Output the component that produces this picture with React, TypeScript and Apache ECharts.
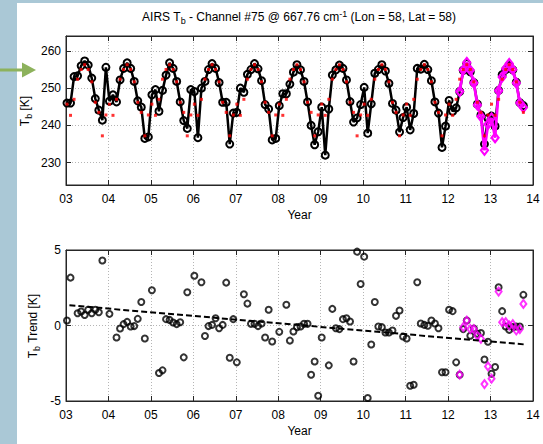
import React, { useEffect, useRef } from 'react';
import * as echarts from 'echarts';

const FONT = '"Liberation Sans", Arial, Helvetica, sans-serif';

// Year axis ticks (two-digit labels 03..14)
const yearTicks = ['03', '04', '05', '06', '07', '08', '09', '10', '11', '12', '13', '14'];
const dataYears = [2003, 2004, 2005, 2006, 2007, 2008, 2009, 2010, 2011, 2012, 2013];

// Top panel: monthly AIRS Tb [K] (black circles + line), Jan..Dec per year
const tb2003 = [246.0, 246.0, 253.1, 253.3, 256.0, 257.3, 256.2, 252.7, 247.2, 244.1, 241.4, 255.6];
const tb2004 = [246.5, 248.2, 246.3, 252.2, 255.3, 256.8, 255.3, 251.8, 246.6, 244.9, 236.5, 236.9];
const tb2005 = [248.2, 249.6, 243.8, 249.4, 253.5, 256.8, 255.3, 251.8, 246.3, 241.3, 239.2, 249.6];
const tb2006 = [249.1, 236.7, 250.0, 251.8, 255.0, 256.6, 255.3, 251.5, 246.2, 246.2, 235.0, 243.3];
const tb2007 = [243.5, 250.0, 248.9, 253.7, 255.0, 256.6, 255.2, 252.0, 245.6, 244.4, 236.1, 236.5];
const tb2008 = [245.3, 248.5, 248.5, 251.1, 254.3, 256.3, 254.9, 251.8, 246.3, 240.0, 234.8, 238.3];
const tb2009 = [244.9, 232.0, 244.4, 253.5, 254.9, 256.2, 255.3, 252.2, 246.4, 240.9, 242.0, 245.6];
const tb2010 = [250.2, 237.9, 245.8, 254.0, 255.0, 256.3, 254.6, 251.3, 245.9, 244.1, 238.2, 242.1];
const tb2011 = [244.9, 238.8, 243.2, 255.3, 255.1, 256.4, 255.0, 252.0, 246.3, 243.3, 234.1, 239.8];
const tb2012 = [246.7, 243.8, 244.7, 249.1, 254.8, 256.6, 254.4, 251.5, 245.7, 242.8, 235.0, 241.9];
const tb2013 = [242.5, 239.8, 249.4, 253.6, 255.0, 256.1, 254.9, 251.6, 246.1, 245.3];

// Top panel: newer product (magenta diamonds), Apr 2012 .. Oct 2013
const tbNew2012 = [null, null, null, 249.1, 254.9, 256.9, 254.8, 251.4, 245.5, 242.4, 233.3, 240.3];
const tbNew2013 = [242.0, 236.7, 249.3, 253.0, 255.3, 256.6, 255.0, 251.4, 246.0, 244.8];

// Top panel: red dots = monthly climatology (identical every year), Jan..Dec
const climatology = [245.7, 242.7, 247.0, 252.4, 255.0, 256.3, 255.0, 251.7, 246.2, 243.5, 237.2, 242.8];

// Bottom panel: Tb trend anomalies [K] (black circles); null = outside the -5..5 range
const an2003 = [0.33, 3.17, null, 0.81, 0.93, 0.70, 1.04, 0.81, 1.04, 0.88, 4.30, null];
const an2004 = [0.77, null, -0.79, -0.20, 0.09, 0.24, -0.07, -0.04, 0.44, 1.56, -0.86, null];
const an2005 = [2.33, null, -3.15, -2.97, 0.42, 0.37, 0.20, 0.09, 0.22, -2.11, 2.20, null];
const an2006 = [3.30, null, 2.86, -0.70, -0.04, 0.04, 0.48, -0.18, 0.04, 2.84, -2.14, 0.42];
const an2007 = [-2.44, null, 2.07, 1.45, 0.11, 0.11, -0.04, 0.13, -0.79, 1.04, -1.06, null];
const an2008 = [-0.42, null, 1.37, -1.00, -0.40, -0.11, -0.07, 0.11, 0.11, -3.26, -2.38, -4.65];
const an2009 = [-0.79, null, -2.64, 1.10, -0.18, -0.24, 0.42, 0.48, 0.26, -2.38, 4.89, 2.75];
const an2010 = [4.56, -4.80, -1.26, 1.56, -0.07, -0.11, -0.46, -0.46, -0.33, 0.64, 0.99, -0.73];
const an2011 = [-0.86, -3.99, -3.92, 2.86, 0.13, 0.04, -0.02, 0.33, 0.13, -0.18, -3.10, -3.10];
const an2012 = [1.04, 0.95, -2.44, -3.26, -0.24, 0.33, -0.68, -0.20, -0.55, -0.50, -2.25, -1.08];
const an2013 = [-3.2, -2.75, 2.53, 0.95, -0.07, -0.29, -0.11, -0.07, -0.07, 2.03];

// Bottom panel: newer product anomalies (magenta diamonds)
const anNew2012 = [null, null, null, -3.26, -0.11, 0.33, -0.24, -0.24, -0.68, -0.88, -3.88, -2.71];
const anNew2013 = [-3.52, null, 2.25, 0.22, 0.22, 0.0, 0.09, -0.33, -0.24, 1.43];

// Bottom panel: linear trend (dashed), end points [year, K]
const trendYears = [3.08, 13.78];
const trendValues = [1.34, -1.25];

const tbByYear = [tb2003, tb2004, tb2005, tb2006, tb2007, tb2008, tb2009, tb2010, tb2011, tb2012, tb2013];
const anByYear = [an2003, an2004, an2005, an2006, an2007, an2008, an2009, an2010, an2011, an2012, an2013];

const decYear = (year: number, m: number) => year - 2000 + (m + 0.28) / 12;

function monthly(list: (number | null)[][], years: number[]) {
  const out: [number, number | null][] = [];
  list.forEach((arr, k) => arr.forEach((v, m) => out.push([decYear(years[k], m), v])));
  return out;
}

const blackTop = monthly(tbByYear, dataYears);
const magentaTop = monthly([tbNew2012, tbNew2013], [2012, 2013]).filter((p) => p[1] !== null);
const redTop = blackTop.map((p, i) => [p[0], climatology[i % 12]]);
const blackBottom = monthly(anByYear, dataYears).filter((p) => p[1] !== null);
const magentaBottom = monthly([anNew2012, anNew2013], [2012, 2013]).filter((p) => p[1] !== null);
const trendLine = trendYears.map((x, i) => [x, trendValues[i]]);

const AX = '#262626';
const GRID_LINE = { show: true, lineStyle: { color: '#b5b5b5', type: [1, 2] as any, width: 1 } };

function xAxes(gridIndex: number, nameGap: number) {
  const base = {
    gridIndex,
    type: 'value' as const,
    min: 3,
    max: 14,
    interval: 1,
    axisLine: { show: true, onZero: false, lineStyle: { color: AX, width: 1 } },
    axisTick: { show: true, inside: true, length: 5, lineStyle: { color: AX } },
  };
  return [
    {
      ...base,
      position: 'bottom',
      axisLabel: {
        show: true,
        margin: 8,
        color: '#000',
        fontSize: 12,
        fontFamily: FONT,
        formatter: (v: number) => yearTicks[Math.round(v) - 3] ?? '',
      },
      splitLine: GRID_LINE,
      name: 'Year',
      nameLocation: 'middle',
      nameGap,
      nameTextStyle: { color: '#000', fontSize: 12, fontFamily: FONT },
    },
    { ...base, position: 'top', axisLabel: { show: false }, splitLine: { show: false } },
  ];
}

function yAxes(gridIndex: number, range: any, fmt: (v: number) => string) {
  const base = {
    gridIndex,
    type: 'value' as const,
    ...range,
    axisLine: { show: true, onZero: false, lineStyle: { color: AX, width: 1 } },
    axisTick: { show: true, inside: true, length: 5, lineStyle: { color: AX } },
  };
  return [
    {
      ...base,
      position: 'left',
      axisLabel: { show: true, margin: 5, color: '#000', fontSize: 12, fontFamily: FONT, formatter: fmt },
      splitLine: GRID_LINE,
    },
    { ...base, position: 'right', axisLabel: { show: false }, splitLine: { show: false } },
  ];
}

const rich = {
  n: { fontSize: 12, fontFamily: FONT, fill: '#000', lineHeight: 16 },
  s: { fontSize: 9, fontFamily: FONT, fill: '#000', lineHeight: 9, verticalAlign: 'bottom' },
  p: { fontSize: 9, fontFamily: FONT, fill: '#000', lineHeight: 9, verticalAlign: 'top' },
};

const option: any = {
  animation: false,
  backgroundColor: '#ffffff',
  grid: [
    { left: 66, top: 36, width: 467, height: 149, show: true, backgroundColor: '#fff', borderColor: AX, borderWidth: 1 },
    { left: 66, top: 250, width: 467, height: 151, show: true, backgroundColor: '#fff', borderColor: AX, borderWidth: 1 },
  ],
  xAxis: [...xAxes(0, 24), ...xAxes(1, 24)],
  yAxis: [
    ...yAxes(0, { min: 224, max: 264, splitNumber: 4 }, (v) => (v % 10 === 0 ? String(v) : '')),
    ...yAxes(1, { min: -5, max: 5, interval: 5 }, (v) => String(v)),
  ],
  graphic: [
    { type: 'rect', shape: { x: 0, y: 0, width: 17, height: 444 }, style: { fill: '#aac8d6' }, z: -10 },
    { type: 'rect', shape: { x: 0, y: 0, width: 543, height: 3 }, style: { fill: '#aac8d6' }, z: -10 },
    { type: 'line', shape: { x1: 0, y1: 70, x2: 25, y2: 70 }, style: { stroke: '#8db25c', lineWidth: 3 }, z: 10 },
    { type: 'polygon', shape: { points: [[22, 62.5], [36, 70], [22, 77.5]] }, style: { fill: '#8db25c' }, z: 10 },
    {
      type: 'text',
      x: 299,
      y: 17,
      style: {
        text: '{n|AIRS T}{s|b}{n| - Channel #75 @ 667.76 cm}{p|-1}{n| (Lon = 58, Lat = 58)}',
        rich,
        align: 'center',
        verticalAlign: 'middle',
      },
    },
    {
      type: 'text',
      x: 25,
      y: 111,
      rotation: Math.PI / 2,
      style: { text: '{n|T}{s|b}{n| [K]}', rich, align: 'center', verticalAlign: 'middle' },
    },
    {
      type: 'text',
      x: 33,
      y: 326,
      rotation: Math.PI / 2,
      style: { text: '{n|T}{s|b}{n| Trend [K]}', rich, align: 'center', verticalAlign: 'middle' },
    },
  ],
  series: [
    {
      type: 'line',
      xAxisIndex: 0,
      yAxisIndex: 0,
      data: blackTop,
      symbol: 'circle',
      symbolSize: 7,
      itemStyle: { color: 'rgba(0,0,0,0)', borderColor: '#000', borderWidth: 2 },
      lineStyle: { color: '#000', width: 2.5 },
      z: 3,
      silent: true,
    },
    {
      type: 'line',
      xAxisIndex: 0,
      yAxisIndex: 0,
      data: magentaTop,
      symbol: 'diamond',
      symbolSize: [7, 9],
      itemStyle: { color: 'rgba(255,0,255,0)', borderColor: '#ff00ff', borderWidth: 2.2 },
      lineStyle: { color: '#ff00ff', width: 2.8 },
      z: 4,
      silent: true,
    },
    {
      type: 'scatter',
      xAxisIndex: 0,
      yAxisIndex: 0,
      data: redTop,
      symbol: 'rect',
      symbolSize: 3,
      itemStyle: { color: '#ff0000' },
      z: 5,
      silent: true,
    },
    {
      type: 'scatter',
      xAxisIndex: 2,
      yAxisIndex: 2,
      data: blackBottom,
      symbol: 'circle',
      symbolSize: 6,
      itemStyle: { color: 'rgba(0,0,0,0)', borderColor: '#000', borderWidth: 2 },
      z: 3,
      silent: true,
    },
    {
      type: 'scatter',
      xAxisIndex: 2,
      yAxisIndex: 2,
      data: magentaBottom,
      symbol: 'diamond',
      symbolSize: [6, 8],
      itemStyle: { color: 'rgba(255,0,255,0)', borderColor: '#ff00ff', borderWidth: 2 },
      z: 4,
      silent: true,
    },
    {
      type: 'line',
      xAxisIndex: 2,
      yAxisIndex: 2,
      data: trendLine,
      symbol: 'none',
      lineStyle: { color: '#000', width: 2, type: [6, 3] },
      z: 5,
      silent: true,
    },
  ],
};

export default function App() {
  const ref = useRef<HTMLDivElement>(null);
  useEffect(() => {
    if (!ref.current) return;
    const chart = echarts.init(ref.current, null, { renderer: 'svg' });
    chart.setOption(option);
    return () => chart.dispose();
  }, []);
  return (
    <div
      ref={ref}
      style={{ position: 'absolute', left: 0, top: 0, width: 543, height: 444, background: '#fff' }}
    />
  );
}
